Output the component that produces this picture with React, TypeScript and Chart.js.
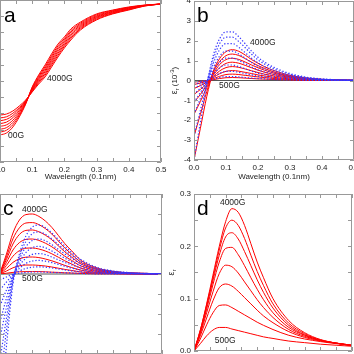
import React, { useEffect, useRef } from 'react';
import { Chart, registerables } from 'chart.js';
Chart.register(...registerables);

// ---------- data ----------
const WAVELENGTH = [0, 0.02, 0.04, 0.06, 0.08, 0.1, 0.12, 0.14, 0.16, 0.18, 0.2, 0.22, 0.25, 0.3, 0.35, 0.4, 0.45, 0.5];
const FIELDS = ['500G', '1000G', '1500G', '2000G', '2500G', '3000G', '3500G', '4000G'];
const X_LABEL_TICKS = [0, 0.1, 0.2, 0.3, 0.4, 0.5];

// panel a (arbitrary reflectance units, 500G -> 4000G)
const A_CURVES = [
  [1.67, 1.79, 2.16, 2.78, 3.58, 4.63, 5.37, 5.99, 6.67, 7.28, 7.72, 8.21, 8.64, 9.14, 9.38, 9.57, 9.69, 9.75],
  [1.84, 1.96, 2.30, 2.88, 3.62, 4.59, 5.29, 5.88, 6.55, 7.17, 7.62, 8.11, 8.57, 9.09, 9.35, 9.54, 9.68, 9.75],
  [2.02, 2.12, 2.44, 2.97, 3.65, 4.54, 5.21, 5.78, 6.44, 7.05, 7.53, 8.02, 8.50, 9.03, 9.31, 9.52, 9.67, 9.75],
  [2.20, 2.29, 2.58, 3.07, 3.69, 4.50, 5.13, 5.67, 6.32, 6.94, 7.43, 7.92, 8.43, 8.98, 9.28, 9.49, 9.66, 9.75],
  [2.37, 2.46, 2.73, 3.17, 3.72, 4.45, 5.05, 5.57, 6.21, 6.82, 7.33, 7.82, 8.36, 8.93, 9.24, 9.46, 9.66, 9.75],
  [2.55, 2.63, 2.87, 3.27, 3.76, 4.41, 4.97, 5.46, 6.09, 6.71, 7.23, 7.72, 8.29, 8.88, 9.21, 9.43, 9.65, 9.75],
  [2.72, 2.79, 3.01, 3.36, 3.79, 4.36, 4.89, 5.36, 5.98, 6.59, 7.14, 7.63, 8.22, 8.82, 9.17, 9.41, 9.64, 9.75],
  [2.90, 2.96, 3.15, 3.46, 3.83, 4.32, 4.81, 5.25, 5.86, 6.48, 7.04, 7.53, 8.15, 8.77, 9.14, 9.38, 9.63, 9.75],
];

// panel b, eps_r (1e-3): red solid and blue dotted, 500G -> 4000G
const B_RED = [
  [-0.08, -0.05, -0.01, 0.04, 0.1, 0.14, 0.15, 0.14, 0.12, 0.1, 0.08, 0.07, 0.05, 0.03, 0.01, 0.01, 0, 0],
  [-0.2, -0.13, -0.04, 0.09, 0.21, 0.3, 0.32, 0.3, 0.26, 0.22, 0.18, 0.15, 0.1, 0.05, 0.03, 0.01, 0, 0],
  [-0.4, -0.26, -0.08, 0.14, 0.34, 0.46, 0.5, 0.47, 0.41, 0.35, 0.28, 0.23, 0.16, 0.08, 0.04, 0.02, 0.01, 0],
  [-0.7, -0.45, -0.15, 0.2, 0.48, 0.65, 0.7, 0.66, 0.58, 0.49, 0.4, 0.32, 0.23, 0.12, 0.06, 0.03, 0.01, 0],
  [-1.1, -0.7, -0.23, 0.26, 0.64, 0.86, 0.92, 0.87, 0.76, 0.64, 0.52, 0.42, 0.3, 0.16, 0.08, 0.04, 0.02, 0.01],
  [-1.7, -1.05, -0.35, 0.32, 0.8, 1.05, 1.12, 1.06, 0.93, 0.78, 0.64, 0.52, 0.37, 0.19, 0.09, 0.04, 0.02, 0.01],
  [-2.8, -1.7, -0.55, 0.4, 0.95, 1.25, 1.33, 1.26, 1.1, 0.92, 0.75, 0.61, 0.43, 0.22, 0.11, 0.05, 0.02, 0.01],
  [-4.0, -2.4, -0.8, 0.45, 1.1, 1.45, 1.55, 1.47, 1.28, 1.05, 0.87, 0.7, 0.5, 0.26, 0.13, 0.06, 0.03, 0.01],
];
const B_BLUE = [
  [-0.08, -0.04, 0, 0.07, 0.15, 0.2, 0.2, 0.18, 0.15, 0.12, 0.1, 0.08, 0.05, 0.03, 0.01, 0.01, 0, 0],
  [-0.2, -0.11, 0, 0.18, 0.36, 0.46, 0.46, 0.41, 0.35, 0.28, 0.22, 0.18, 0.12, 0.07, 0.03, 0.02, 0.01, 0],
  [-0.4, -0.22, -0.02, 0.32, 0.63, 0.78, 0.78, 0.7, 0.59, 0.47, 0.37, 0.3, 0.21, 0.11, 0.05, 0.03, 0.01, 0],
  [-0.7, -0.38, -0.03, 0.48, 0.92, 1.13, 1.13, 1.01, 0.85, 0.68, 0.54, 0.43, 0.3, 0.16, 0.08, 0.04, 0.02, 0.01],
  [-1.1, -0.6, -0.05, 0.65, 1.22, 1.48, 1.48, 1.33, 1.12, 0.9, 0.71, 0.56, 0.39, 0.21, 0.1, 0.05, 0.02, 0.01],
  [-1.7, -0.9, -0.08, 0.85, 1.55, 1.86, 1.86, 1.67, 1.4, 1.12, 0.88, 0.7, 0.49, 0.26, 0.13, 0.06, 0.03, 0.01],
  [-2.8, -1.5, -0.15, 1.05, 1.85, 2.18, 2.18, 1.96, 1.65, 1.32, 1.04, 0.83, 0.58, 0.31, 0.15, 0.07, 0.03, 0.01],
  [-4.0, -2.1, -0.2, 1.25, 2.1, 2.45, 2.45, 2.2, 1.85, 1.48, 1.17, 0.93, 0.66, 0.35, 0.17, 0.08, 0.04, 0.02],
];

// panel c, 500G -> 4000G
const C_RED = [
  [0, 0.04, 0.08, 0.11, 0.12, 0.12, 0.12, 0.11, 0.09, 0.08, 0.06, 0.05, 0.03, 0.01, 0.01, 0, 0, 0],
  [0.01, 0.15, 0.31, 0.41, 0.45, 0.45, 0.43, 0.4, 0.35, 0.29, 0.23, 0.18, 0.1, 0.05, 0.02, 0.01, 0, 0],
  [0.01, 0.28, 0.58, 0.76, 0.84, 0.85, 0.82, 0.75, 0.66, 0.55, 0.43, 0.33, 0.19, 0.08, 0.04, 0.02, 0.01, 0],
  [0.02, 0.43, 0.89, 1.17, 1.29, 1.3, 1.25, 1.15, 1.01, 0.84, 0.66, 0.51, 0.29, 0.13, 0.06, 0.03, 0.01, 0],
  [0.03, 0.58, 1.2, 1.57, 1.73, 1.75, 1.68, 1.54, 1.36, 1.13, 0.89, 0.69, 0.4, 0.17, 0.08, 0.03, 0.02, 0.01],
  [0.04, 0.73, 1.5, 1.98, 2.18, 2.2, 2.11, 1.94, 1.71, 1.41, 1.11, 0.86, 0.5, 0.22, 0.1, 0.04, 0.02, 0.01],
  [0.04, 0.86, 1.76, 2.31, 2.55, 2.57, 2.47, 2.27, 2.0, 1.65, 1.3, 1.01, 0.58, 0.26, 0.11, 0.05, 0.03, 0.01],
  [0.05, 1.0, 2.05, 2.7, 2.97, 3.0, 2.88, 2.65, 2.33, 1.93, 1.52, 1.18, 0.68, 0.3, 0.13, 0.06, 0.03, 0.01],
];
const C_BLUE = [
  [-0.3, -0.15, -0.01, 0.04, 0.08, 0.1, 0.1, 0.09, 0.08, 0.07, 0.06, 0.05, 0.03, 0.01, 0.01, 0, 0, 0],
  [-0.8, -0.4, -0.04, 0.15, 0.28, 0.34, 0.36, 0.34, 0.3, 0.25, 0.2, 0.16, 0.11, 0.05, 0.02, 0.01, 0, 0],
  [-1.6, -0.8, -0.08, 0.28, 0.53, 0.65, 0.68, 0.64, 0.57, 0.48, 0.39, 0.3, 0.2, 0.09, 0.04, 0.02, 0.01, 0],
  [-2.4, -1.2, -0.12, 0.43, 0.79, 0.98, 1.02, 0.97, 0.85, 0.71, 0.58, 0.46, 0.3, 0.14, 0.06, 0.03, 0.01, 0],
  [-3.2, -1.65, -0.18, 0.58, 1.07, 1.32, 1.38, 1.31, 1.15, 0.97, 0.79, 0.62, 0.41, 0.19, 0.08, 0.04, 0.02, 0.01],
  [-4.3, -2.2, -0.25, 0.73, 1.36, 1.68, 1.75, 1.66, 1.46, 1.23, 1.0, 0.79, 0.51, 0.24, 0.11, 0.05, 0.02, 0.01],
  [-5.5, -2.8, -0.35, 0.88, 1.63, 2.02, 2.1, 1.99, 1.76, 1.47, 1.2, 0.94, 0.62, 0.28, 0.13, 0.06, 0.03, 0.01],
  [-7.0, -3.6, -0.5, 1.0, 1.9, 2.35, 2.45, 2.32, 2.05, 1.72, 1.4, 1.1, 0.72, 0.33, 0.15, 0.07, 0.03, 0.01],
];

// panel d, eps_r, 500G -> 4000G
const D_CURVES = [
  [0, 0.014, 0.029, 0.04, 0.045, 0.045, 0.042, 0.039, 0.036, 0.033, 0.03, 0.027, 0.024, 0.019, 0.016, 0.013, 0.011, 0.009],
  [0, 0.023, 0.05, 0.073, 0.087, 0.088, 0.083, 0.076, 0.069, 0.062, 0.055, 0.049, 0.041, 0.03, 0.023, 0.018, 0.014, 0.011],
  [0, 0.029, 0.063, 0.096, 0.121, 0.128, 0.124, 0.114, 0.102, 0.09, 0.078, 0.067, 0.054, 0.037, 0.026, 0.019, 0.015, 0.011],
  [0, 0.033, 0.073, 0.113, 0.148, 0.164, 0.161, 0.149, 0.132, 0.115, 0.098, 0.083, 0.064, 0.041, 0.028, 0.02, 0.015, 0.011],
  [0, 0.036, 0.08, 0.127, 0.17, 0.196, 0.198, 0.184, 0.163, 0.14, 0.118, 0.098, 0.073, 0.045, 0.03, 0.02, 0.015, 0.011],
  [0, 0.038, 0.085, 0.135, 0.183, 0.218, 0.226, 0.214, 0.19, 0.163, 0.136, 0.112, 0.082, 0.049, 0.031, 0.021, 0.015, 0.01],
  [0, 0.04, 0.088, 0.14, 0.193, 0.235, 0.25, 0.24, 0.215, 0.183, 0.152, 0.125, 0.09, 0.053, 0.033, 0.021, 0.015, 0.01],
  [0, 0.04, 0.09, 0.145, 0.2, 0.247, 0.272, 0.265, 0.24, 0.205, 0.17, 0.14, 0.1, 0.058, 0.035, 0.022, 0.015, 0.01],
];

// ---------- styling ----------
const FONT = '"Liberation Sans", Arial, Helvetica, sans-serif';
const RED = '#ff0000';
const BLUE = '#3535ff';
const FRAME = '#999999';
const TEXT = '#222222';
const ZERO = '#555555';
const M = 40;
const YW = 30;

type Label = { text: string; x: number; y: number };
type Panel = {
  id: string;
  area: [number, number, number, number];
  yMin: number;
  yMax: number;
  yLabelStep: number;
  yTickStep: number;
  showYLabels: boolean;
  yDigits: number;
  xTitle: boolean;
  xh: number;
  red: number[][];
  blue?: number[][];
  zeroLine: boolean;
  letter: string;
  letterPos: [number, number];
  labels: Label[];
  yTitle?: { dx: number; sup: boolean };
};

const PANELS: Panel[] = [
  {
    id: 'a', area: [0, 0, 161, 162], yMin: 0, yMax: 10, yLabelStep: 1, yTickStep: 1,
    showYLabels: false, yDigits: 0, xTitle: true, xh: 19.8, red: A_CURVES, zeroLine: false,
    letter: 'a', letterPos: [4, 22],
    labels: [{ text: '4000G', x: 0.146, y: 5.12 }, { text: '00G', x: 0.025, y: 1.6 }],
  },
  {
    id: 'b', area: [194, 1, 354, 160], yMin: -4, yMax: 4, yLabelStep: 1, yTickStep: 1,
    showYLabels: true, yDigits: 0, xTitle: true, xh: 21.8, red: B_RED, blue: B_BLUE, zeroLine: true,
    letter: 'b', letterPos: [3, 21],
    labels: [{ text: '4000G', x: 0.175, y: 1.91 }, { text: '500G', x: 0.078, y: -0.28 }],
    yTitle: { dx: -19, sup: true },
  },
  {
    id: 'c', area: [0, 194, 162, 354], yMin: -4, yMax: 4, yLabelStep: 1, yTickStep: 1,
    showYLabels: true, yDigits: 0, xTitle: true, xh: 20, red: C_RED, blue: C_BLUE, zeroLine: true,
    letter: 'c', letterPos: [3, 21],
    labels: [{ text: '4000G', x: 0.068, y: 3.2 }, { text: '500G', x: 0.068, y: -0.25 }],
  },
  {
    id: 'd', area: [194, 194, 352, 351], yMin: 0, yMax: 0.3, yLabelStep: 0.1, yTickStep: 0.05,
    showYLabels: true, yDigits: 1, xTitle: true, xh: 20, red: D_CURVES, zeroLine: false,
    letter: 'd', letterPos: [3, 21],
    labels: [{ text: '4000G', x: 0.082, y: 0.284 }, { text: '500G', x: 0.066, y: 0.019 }],
    yTitle: { dx: -22, sup: false },
  },
];

const toPoints = (ys: number[]) => WAVELENGTH.map((x, i) => ({ x, y: ys[i] }));

function framePlugin(p: Panel) {
  return {
    id: 'frame_' + p.id,
    afterDraw(chart: any) {
      const { ctx, chartArea } = chart;
      const { left, right, top, bottom } = chartArea;
      const xs = chart.scales.x;
      const ys = chart.scales.y;
      ctx.save();
      ctx.strokeStyle = FRAME;
      ctx.lineWidth = 1;
      ctx.beginPath();
      ctx.rect(left + 0.5, top + 0.5, right - left - 1, bottom - top - 1);
      const TL = 4;
      for (let i = 0; i <= 10; i++) {
        const v = i * 0.05;
        const px = Math.round(xs.getPixelForValue(v)) + 0.5;
        ctx.moveTo(px, bottom);
        ctx.lineTo(px, bottom - TL);
        ctx.moveTo(px, top);
        ctx.lineTo(px, top + TL);
      }
      const n = Math.round((p.yMax - p.yMin) / p.yTickStep);
      for (let i = 0; i <= n; i++) {
        const v = p.yMin + i * p.yTickStep;
        const py = Math.round(ys.getPixelForValue(v)) + 0.5;
        ctx.moveTo(left, py);
        ctx.lineTo(left + TL, py);
        ctx.moveTo(right, py);
        ctx.lineTo(right - TL, py);
      }
      ctx.stroke();

      // curve labels
      ctx.fillStyle = TEXT;
      ctx.font = `8.5px ${FONT}`;
      ctx.textAlign = 'left';
      ctx.textBaseline = 'middle';
      for (const l of p.labels) {
        ctx.fillText(l.text, xs.getPixelForValue(l.x), ys.getPixelForValue(l.y));
      }

      // panel letter
      ctx.fillStyle = '#000';
      ctx.font = `21px ${FONT}`;
      ctx.textBaseline = 'alphabetic';
      ctx.fillText(p.letter, left + p.letterPos[0], top + p.letterPos[1]);

      // y title
      if (p.yTitle) {
        const parts = p.yTitle.sup
          ? [
              { t: 'ε', s: 8.5, dy: 0 },
              { t: 'r', s: 6, dy: 2 },
              { t: ' (10', s: 8, dy: 0 },
              { t: '-3', s: 6, dy: -3 },
              { t: ')', s: 8, dy: 0 },
            ]
          : [
              { t: 'ε', s: 8.5, dy: 0 },
              { t: 'r', s: 6, dy: 2 },
            ];
        let total = 0;
        for (const pt of parts) {
          ctx.font = `${pt.s}px ${FONT}`;
          total += ctx.measureText(pt.t).width;
        }
        ctx.translate(left + p.yTitle.dx, (top + bottom) / 2);
        ctx.rotate(-Math.PI / 2);
        ctx.fillStyle = TEXT;
        ctx.textBaseline = 'middle';
        let x = -total / 2;
        for (const pt of parts) {
          ctx.font = `${pt.s}px ${FONT}`;
          ctx.fillText(pt.t, x, pt.dy);
          x += ctx.measureText(pt.t).width;
        }
      }
      ctx.restore();
    },
  };
}

function buildChart(canvas: HTMLCanvasElement, p: Panel) {
  const datasets: any[] = [];
  (p.blue || []).forEach((arr, i) => {
    datasets.push({
      label: 'blue ' + FIELDS[i],
      data: toPoints(arr),
      borderColor: BLUE,
      borderWidth: 1.2,
      borderDash: [1.3, 1.9],
      pointRadius: 0,
      fill: false,
      cubicInterpolationMode: 'monotone',
    });
  });
  p.red.forEach((arr, i) => {
    datasets.push({
      label: 'red ' + FIELDS[i],
      data: toPoints(arr),
      borderColor: RED,
      borderWidth: 1,
      pointRadius: 0,
      fill: false,
      cubicInterpolationMode: 'monotone',
    });
  });
  if (p.zeroLine) {
    datasets.push({
      label: 'zero',
      data: [{ x: 0, y: 0 }, { x: 0.5, y: 0 }],
      borderColor: ZERO,
      borderWidth: 1,
      pointRadius: 0,
      fill: false,
    });
  }
  const tickFont = { size: 8, family: FONT };
  return new Chart(canvas, {
    type: 'line',
    data: { datasets },
    options: {
      responsive: false,
      devicePixelRatio: 1,
      animation: false,
      events: [],
      layout: { autoPadding: false, padding: { left: M - YW, top: M, right: M, bottom: M - p.xh } },
      plugins: { legend: { display: false }, tooltip: { enabled: false }, title: { display: false } },
      scales: {
        x: {
          type: 'linear',
          position: 'bottom',
          min: 0,
          max: 0.5,
          afterBuildTicks: (s: any) => {
            s.ticks = X_LABEL_TICKS.map((v) => ({ value: v }));
          },
          ticks: {
            font: tickFont,
            color: TEXT,
            padding: 3,
            maxRotation: 0,
            autoSkip: false,
            callback: (v: any) => Number(v).toFixed(1),
          },
          grid: { display: false, drawTicks: false },
          border: { display: false },
          title: { display: p.xTitle, text: 'Wavelength (0.1nm)', font: tickFont, color: TEXT, padding: 0 },
          afterFit: (s: any) => {
            s.height = p.xh;
            s.paddingLeft = 0;
            s.paddingRight = 0;
          },
        },
        y: {
          type: 'linear',
          position: 'left',
          min: p.yMin,
          max: p.yMax,
          ticks: {
            display: p.showYLabels,
            stepSize: p.yLabelStep,
            font: tickFont,
            color: TEXT,
            padding: 3,
            callback: (v: any) => Number(v).toFixed(p.yDigits),
          },
          grid: { display: false, drawTicks: false },
          border: { display: false },
          afterFit: (s: any) => {
            s.width = YW;
            s.paddingTop = 0;
            s.paddingBottom = 0;
          },
        },
      },
    } as any,
    plugins: [framePlugin(p)],
  });
}

export default function App() {
  const refs = useRef<(HTMLCanvasElement | null)[]>([]);
  useEffect(() => {
    document.body.style.margin = '0';
    const charts = PANELS.map((p, i) => buildChart(refs.current[i] as HTMLCanvasElement, p));
    return () => charts.forEach((c) => c.destroy());
  }, []);
  return (
    <div
      style={{
        position: 'fixed',
        left: 0,
        top: 0,
        width: 354,
        height: 354,
        overflow: 'hidden',
        background: '#ffffff',
      }}
    >
      {PANELS.map((p, i) => {
        const [L, T, R, B] = p.area;
        const w = R - L + 2 * M;
        const h = B - T + 2 * M;
        return (
          <canvas
            key={p.id}
            ref={(el) => {
              refs.current[i] = el;
            }}
            width={w}
            height={h}
            style={{ position: 'absolute', left: L - M, top: T - M, width: w, height: h }}
          />
        );
      })}
    </div>
  );
}
